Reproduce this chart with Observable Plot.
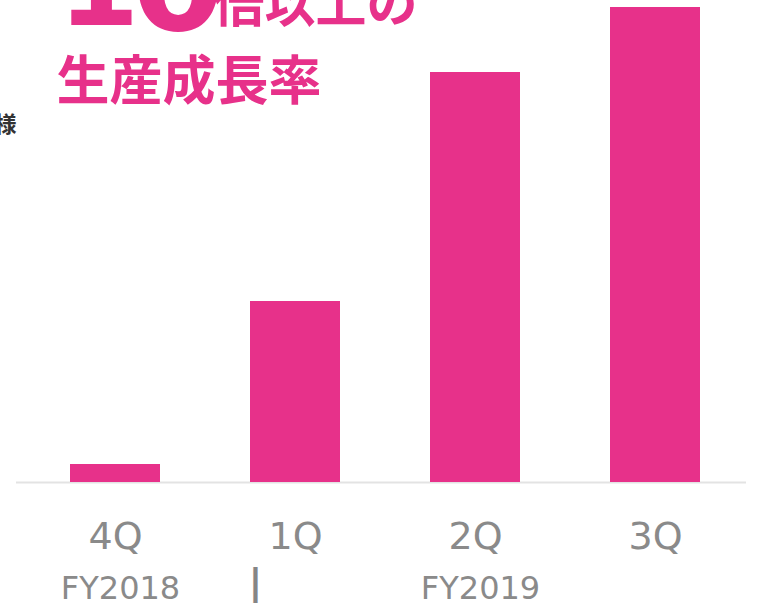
<!DOCTYPE html>
<html><head><meta charset="utf-8">
<script src="https://cdn.jsdelivr.net/npm/d3@7"></script>
<script src="https://cdn.jsdelivr.net/npm/@observablehq/plot@0.6"></script>
<style>html,body{margin:0;padding:0;background:#fff;overflow:hidden}</style>
</head><body><div id="chart"></div>
<script>
const quarters = ["4Q", "1Q", "2Q", "3Q"];
const values = [18, 181, 410, 475];
const fiscalYears = ["FY2018", "FY2019"];
const fiscalAnchor = ["4Q", "2Q"];
const pink = "#e7318a";
const data = quarters.map((q, i) => ({q, v: values[i]}));
const fyData = fiscalYears.map((label, i) => ({label, q: fiscalAnchor[i]}));

const W = 761, H = 603, mL = 23, mR = 15, mT = 7, mB = 121;
const cjk = "'Noto Sans CJK JP', sans-serif";
const latin = "'DejaVu Sans', sans-serif";

const plot = Plot.plot({
  width: W, height: H,
  marginLeft: mL, marginRight: mR, marginTop: mT, marginBottom: mB,
  style: {fontFamily: latin, color: "#8a8a8a", background: "#fff", overflow: "visible"},
  x: {domain: quarters, paddingInner: 0.5, paddingOuter: 0.25, axis: null, label: null},
  y: {domain: [0, 475], axis: null, label: null},
  marks: [
    Plot.ruleY([0], {stroke: "#e3e3e3", strokeWidth: 2, insetLeft: -7}),
    Plot.barY(data, {x: "q", y: "v", fill: pink}),
    Plot.axisX({tickSize: 0, tickPadding: 40, fontSize: 38, label: null, fill: "#8a8a8a", fontFamily: latin}),
    Plot.text(fyData, {x: "q", text: "label", frameAnchor: "bottom", dx: 5, dy: 116, lineAnchor: "bottom", textAnchor: "middle", fontSize: 32, fill: "#8a8a8a", fontFamily: latin}),
    Plot.text(["|"], {frameAnchor: "bottom-left", dx: 255 - mL, dy: 112, lineAnchor: "bottom", textAnchor: "middle", fontSize: 38, fontWeight: "bold", fill: "#858585", fontFamily: latin}),
    Plot.text(["1"], {frameAnchor: "top-left", dx: 57 - mL, dy: 24 - mT, lineAnchor: "bottom", textAnchor: "start", fontSize: 118, fontWeight: "bold", fill: pink, fontFamily: latin}),
    Plot.text(["0"], {frameAnchor: "top-left", dx: 131 - mL, dy: 29 - mT, lineAnchor: "bottom", textAnchor: "start", fontSize: 134, fontWeight: "bold", fill: pink, fontFamily: latin}),
    Plot.text(["倍以上の"], {frameAnchor: "top-left", dx: 213 - mL, dy: 21 - mT, lineAnchor: "bottom", textAnchor: "start", fontSize: 51, fontWeight: "bold", fill: pink, fontFamily: cjk}),
    Plot.text(["生産成長率"], {frameAnchor: "top-left", dx: 56 - mL, dy: 99 - mT, lineAnchor: "bottom", textAnchor: "start", fontSize: 53, fontWeight: "bold", fill: pink, fontFamily: cjk}),
    Plot.text(["様"], {frameAnchor: "top-left", dx: 16 - mL, dy: 131 - mT, lineAnchor: "bottom", textAnchor: "end", fontSize: 22, fontWeight: "bold", fill: "#333333", fontFamily: cjk})
  ]
});
document.getElementById("chart").appendChild(plot);
</script></body></html>
